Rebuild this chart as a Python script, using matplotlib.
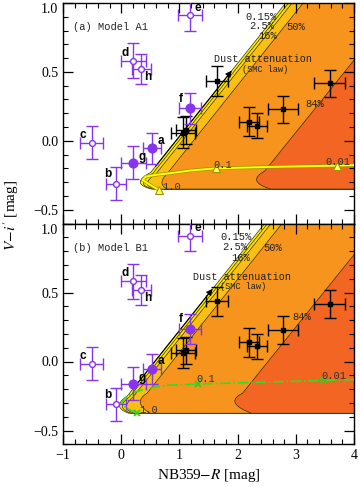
import numpy as np
import matplotlib
matplotlib.use('Agg')
import matplotlib.pyplot as plt
from matplotlib.patches import Polygon
import matplotlib.patheffects as pe
from matplotlib.ticker import MultipleLocator

plt.rcParams['font.family'] = ['Liberation Serif', 'DejaVu Serif']
plt.rcParams['mathtext.fontset'] = 'stix'

# ---- observed objects (same in both panels) ----
lae_names = ['a', 'b', 'c', 'd', 'e', 'f', 'g', 'h']
lae_x = [0.53, -0.09, -0.51, 0.21, 1.18, 1.18, 0.21, 0.345]
lae_y = [-0.055, -0.31, -0.015, 0.58, 0.91, 0.235, -0.16, 0.52]
lae_xerr = [0.15, 0.17, 0.19, 0.21, 0.20, 0.19, 0.21, 0.16]
lae_yerr = [0.11, 0.12, 0.12, 0.127, 0.11, 0.11, 0.12, 0.11]
lae_filled = [True, False, False, False, False, True, True, False]

lbg_x = [1.64, 3.58, 2.78, 2.19, 2.33, 1.06, 1.12]
lbg_y = [0.435, 0.416, 0.228, 0.14, 0.11, 0.06, 0.08]
lbg_xerr = [0.19, 0.265, 0.265, 0.17, 0.17, 0.20, 0.17]
lbg_yerr = [0.107, 0.10, 0.10, 0.104, 0.09, 0.11, 0.10]

# ---- model tracks ----
trackA_x = [0.65, 0.50, 0.37, 0.42, 0.60, 0.90, 1.20, 1.63, 2.50, 3.71, 4.05]
trackA_y = [-0.357, -0.32, -0.285, -0.26, -0.247, -0.232, -0.215, -0.20, -0.19, -0.18, -0.176]
trackA_mark_x = [0.65, 1.63, 3.71]
trackA_mark_y = [-0.357, -0.20, -0.18]
trackB_x = [0.28, 0.12, 0.0, 0.05, 0.20, 0.50, 0.80, 1.32, 2.00, 3.47, 4.05]
trackB_y = [-0.373, -0.345, -0.31, -0.27, -0.225, -0.19, -0.172, -0.163, -0.155, -0.137, -0.13]
trackB_mark_x = [0.28, 1.32, 3.47]
trackB_mark_y = [-0.373, -0.163, -0.137]
track_labels = ['1.0', '0.1', '0.01']

# ---- probability contour levels ----
level_labels = ['0.15%', '2.5%', '16%', '50%', '84%']
level_colors = ['#FFF700', '#FFE100', '#FBBF14', '#F7941D', '#F26522']

purple = '#8833EE'

fig = plt.figure(figsize=(3.6, 4.87), dpi=100)
L, R = 63/360, 354/360
T, M, B = 1-3/487, 1-223.5/487, 1-444.3/487
ax1 = fig.add_axes([L, M, R-L, T-M])
ax2 = fig.add_axes([L, B, R-L, M-B], sharex=ax1)


def bez(p0, tip, p2, n=25):
    cx = 2*tip[0] - 0.5*(p0[0]+p2[0])
    cy = 2*tip[1] - 0.5*(p0[1]+p2[1])
    t = np.linspace(0, 1, n)
    x = (1-t)**2*p0[0] + 2*(1-t)*t*cx + t**2*p2[0]
    y = (1-t)**2*p0[1] + 2*(1-t)*t*cy + t**2*p2[1]
    return x, y


def wedge(ax, xa, ya, slope, tip, pb, color):
    def xl(y):
        return xa + (y-ya)/slope
    ytop = 1.4
    y0 = tip[1] + 0.07
    bx, by = bez((xl(y0), y0), tip, pb)
    xs = [xl(ytop)] + list(bx) + [4.6, 4.6]
    ys = [ytop] + list(by) + [pb[1], ytop]
    ax.add_patch(Polygon(np.column_stack([xs, ys]), closed=True,
                         facecolor=color, edgecolor='#3a2a00', lw=0.5, zorder=1))


def draw_regions(ax, xa, ya, slope, tips, bottoms, x84, y84):
    offs = [0.0, 0.05, 0.11, 0.30]
    for i, off in enumerate(offs):
        wedge(ax, xa+off, ya, slope, tips[i], bottoms[i], level_colors[i])
    wedge(ax, x84, y84, 0.524, tips[4], bottoms[4], level_colors[4])


# Panel A regions
draw_regions(ax1, 1.93, 0.525, 0.53,
             [(0.33, -0.30), (0.38, -0.305), (0.45, -0.31), (0.70, -0.305), (2.33, -0.29)],
             [(0.52, -0.35), (0.55, -0.35), (0.60, -0.35), (0.80, -0.35), (2.57, -0.35)],
             2.34, -0.285)
# Panel B regions
draw_regions(ax2, 1.60, 0.542, 0.53,
             [(-0.03, -0.32), (0.02, -0.325), (0.09, -0.33), (0.33, -0.30), (1.96, -0.30)],
             [(0.13, -0.375), (0.17, -0.375), (0.22, -0.375), (0.50, -0.375), (2.24, -0.375)],
             1.97, -0.29)

mono = ['Liberation Mono', 'DejaVu Sans Mono']

# Track A
ax1.plot(trackA_x, trackA_y, color='#FFFF00', lw=1.4, zorder=3,
         path_effects=[pe.Stroke(linewidth=2.4, foreground='#9A9000'), pe.Normal()])
ax1.plot(trackA_mark_x, trackA_mark_y, ls='none', marker='^', ms=6,
         mfc='#FFFF66', mec='#A09000', mew=0.8, zorder=4)
# Track B
ax2.plot(trackB_x, trackB_y, color='#33DD22', lw=1.2, ls='-.', zorder=3)
ax2.plot(trackB_mark_x, trackB_mark_y, ls='none', marker='x', ms=5,
         mec='#33CC22', mew=1.3, zorder=4)

track_off = {ax1: [(0.21, 0.024), (0.12, 0.024), (0.01, 0.023)],
             ax2: [(0.19, 0.022), (0.13, 0.035), (0.18, 0.03)]}
for ax, mx, my in [(ax1, trackA_mark_x, trackA_mark_y), (ax2, trackB_mark_x, trackB_mark_y)]:
    for lab, x, y, (dx, dy) in zip(track_labels, mx, my, track_off[ax]):
        ax.text(x+dx, y+dy, lab, family=mono, fontsize=7.5, ha='center',
                va='center', color='#333', zorder=5)

# level labels
lvl_pos_A = [(2.41, 0.90), (2.42, 0.83), (2.52, 0.76), (3.0, 0.826), (3.32, 0.27)]
lvl_pos_B = [(1.97, 0.90), (1.95, 0.83), (2.06, 0.75), (2.6, 0.82), (3.10, 0.32)]
for ax, pos in [(ax1, lvl_pos_A), (ax2, lvl_pos_B)]:
    for lab, (x, y) in zip(level_labels, pos):
        ax.text(x, y, lab, family=mono, fontsize=7.5, ha='center', va='center',
                color='#222', zorder=5)

# dust arrow
for ax, xa, ya, tx, ty in [(ax1, 1.93, 0.525, 2.44, 0.592), (ax2, 1.60, 0.542, 2.07, 0.615)]:
    ys = -0.2
    xs = xa + (ys-ya)/0.53
    ax.annotate('', xy=(xa, ya), xytext=(xs, ys),
                arrowprops=dict(arrowstyle='-|>', color='k', lw=0.8, mutation_scale=9),
                zorder=5)
    ax.text(tx, ty, 'Dust attenuation', family=mono, fontsize=7.3, ha='center',
            va='center', color='#222', zorder=5)
    ax.text(tx+0.03, ty-0.075, '(SMC law)', family=mono, fontsize=6.2, ha='center',
            va='center', color='#222', zorder=5)

label_off = {'a': (0.16, 0.055), 'b': (-0.14, 0.07), 'c': (-0.145, 0.055),
             'd': (-0.15, 0.06), 'e': (0.14, 0.057), 'f': (-0.16, 0.07),
             'g': (0.15, 0.04), 'h': (0.115, -0.06)}

for ax in (ax1, ax2):
    ax.errorbar(lbg_x, lbg_y, xerr=lbg_xerr, yerr=lbg_yerr, fmt='s', color='k',
                ms=3, elinewidth=1.0, capsize=4, capthick=1.0, zorder=6)
    for n, x, y, xe, ye, f in zip(lae_names, lae_x, lae_y, lae_xerr, lae_yerr, lae_filled):
        ax.errorbar([x], [y], xerr=[xe], yerr=[ye], fmt='o', color=purple,
                    ms=6.3 if f else 4.2, mfc=purple if f else 'white', mec=purple,
                    mew=1.0, elinewidth=1.0, capsize=4, capthick=1.0, zorder=7)
        dx, dy = label_off[n]
        ax.text(x+dx, y+dy, n, family=['Liberation Sans', 'DejaVu Sans'],
                fontweight='bold', fontsize=8.5, ha='center', va='center', zorder=8)

    ax.set_xlim(-1, 4)
    ax.set_ylim(-0.6, 1.0)
    ax.xaxis.set_major_locator(MultipleLocator(1))
    ax.xaxis.set_minor_locator(MultipleLocator(0.2))
    ax.yaxis.set_major_locator(MultipleLocator(0.5))
    ax.yaxis.set_minor_locator(MultipleLocator(0.1))
    ax.tick_params(which='both', direction='in', top=True, right=True, labelsize=10)
    ax.tick_params(which='major', length=7, width=0.9)
    ax.tick_params(which='minor', length=3.5, width=0.8)
    for s in ax.spines.values():
        s.set_linewidth(1.0)
    ax.set_yticks([-0.5, 0.0, 0.5, 1.0])
    ax.set_yticklabels(['\u22120.5', '0.0', '0.5', '1.0'])
    ax.get_yticklabels()[-1].set_va('top')

ax1.tick_params(labelbottom=False)
ax2.set_xticks([-1, 0, 1, 2, 3, 4])
ax2.set_xticklabels(['\u22121', '0', '1', '2', '3', '4'])

ax1.text(-0.83, 0.826, '(a) Model A1', family=mono, fontsize=7.5, ha='left',
         va='center', color='#222', zorder=9)
ax2.text(-0.83, 0.82, '(b) Model B1', family=mono, fontsize=7.5, ha='left',
         va='center', color='#222', zorder=9)

fig.text(0.03, 1-215/487, "$V\\!-\\!i'$ [mag]", rotation=90, ha='center', va='center', fontsize=11)
fig.text((L+R)/2, 1-475/487, "NB359$-R$ [mag]", ha='center', va='center', fontsize=11)

fig.savefig('out.png', dpi=100)
